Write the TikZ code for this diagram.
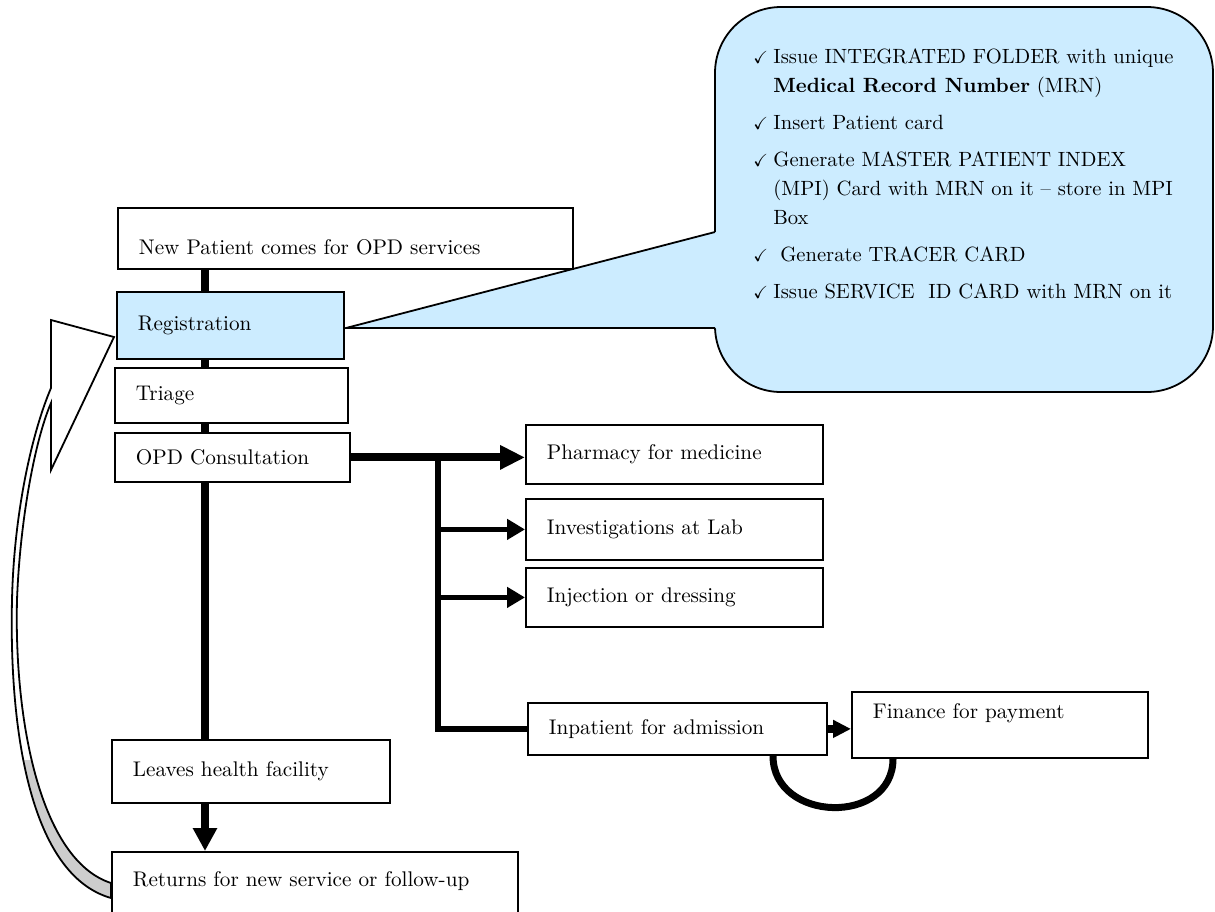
\documentclass[tikz,border=0pt]{standalone}
\usepackage{amssymb}
\usetikzlibrary{arrows.meta,calc}

\definecolor{regblue}{RGB}{204,236,255}
\definecolor{backgray}{RGB}{205,205,205}

\tikzset{
  stepbox/.style={draw, line width=0.9pt, fill=white, anchor=north west,
    inner xsep=10.5pt, inner ysep=0pt, align=left,
    font=\fontsize{10.6}{13}\selectfont},
  spine/.style={line width=4pt},
  mainarrow/.style={line width=4pt, -{Triangle[length=12.5pt,width=11.5pt]}},
  subarrow/.style={line width=2.5pt, -{Triangle[length=9pt,width=10pt]}},
  branch/.style={line width=2.6pt},
  payloop/.style={line width=3.5pt},
  calltext/.style={inner sep=0pt, anchor=north west, align=left,
    font=\fontsize{10.3}{14.5}\selectfont}
}

\newcommand{\tick}{\makebox[10pt][l]{\scalebox{0.85}{$\checkmark$}}}

% Outline of the curved return arrow
\def\backarrow{(51,320) -- (114,337) -- (51,470) -- (51,403)
  .. controls (35,440) and (20,520) .. (17,600)
  .. controls (14,720) and (40,860) .. (111,883) -- (111,898)
  .. controls (30,875) and (9,730) .. (12,600)
  .. controls (14,510) and (33,430) .. (51,388) -- cycle}

\begin{document}
\begin{tikzpicture}[x=0.5pt,y=-0.5pt]

% Page frame (pixel grid, y downwards)
\clip (0,0) rectangle (1215,911);

% Call-out for registration tasks
\draw[line width=0.9pt, fill=regblue, rounded corners=33pt] (715,7) rectangle (1213,392);
\fill[regblue] (346,328) -- (715,232) -- (718,232) -- (718,328) -- cycle;
\draw[line width=0.9pt] (715,232) -- (346,328) -- (715,328);
\node[calltext] (notes) at (753,48) {%
\tick Issue INTEGRATED FOLDER with unique\\
\hspace*{10pt}\textbf{Medical Record Number} (MRN)\\[4pt]
\tick Insert Patient card\\[4pt]
\tick Generate MASTER PATIENT INDEX\\
\hspace*{10pt}(MPI) Card with MRN on it -- store in MPI\\
\hspace*{10pt}Box\\[4pt]
\tick\ Generate TRACER CARD\\[4pt]
\tick Issue SERVICE\ \ ID CARD with MRN on it};

% Main column of steps
\node[stepbox, minimum width=227.5pt, minimum height=30.5pt, text width=206.5pt,
  text height=16pt] (np) at (117,207) {New Patient comes for OPD services};
\node[stepbox, fill=regblue, minimum width=113.5pt, minimum height=33.5pt,
  text width=92.5pt] (reg) at (116,291) {Registration};
\node[stepbox, minimum width=116.5pt, minimum height=27.5pt, text width=95.5pt]
  (tri) at (114,367) {Triage};
\node[stepbox, minimum width=117.5pt, minimum height=24.5pt, text width=96.5pt]
  (opd) at (114,432) {OPD Consultation};
\node[stepbox, minimum width=139pt, minimum height=31.5pt, text width=118pt]
  (lv) at (111,739) {Leaves health facility};
\node[stepbox, minimum width=203pt, minimum height=45pt, text width=182pt,
  text depth=18pt] (ret) at (111,851) {Returns for new service or follow-up};

% Services after consultation
\node[stepbox, minimum width=148.5pt, minimum height=29.5pt, text width=127.5pt]
  (ph) at (525,424) {Pharmacy for medicine};
\node[stepbox, minimum width=148.5pt, minimum height=30.5pt, text width=127.5pt]
  (inv) at (525,498) {Investigations at Lab};
\node[stepbox, minimum width=148.5pt, minimum height=29.5pt, text width=127.5pt]
  (inj) at (525,567) {Injection or dressing};
\node[stepbox, minimum width=149.5pt, minimum height=26pt, text width=128.5pt]
  (inp) at (527,702) {Inpatient for admission};
\node[stepbox, minimum width=148pt, minimum height=33pt, text width=127pt,
  text depth=14pt] (fin) at (851,691) {Finance for payment};

% Spine through the main column
\coordinate (sp) at (205,0);
\draw[spine] (np.south -| sp) -- (reg.north -| sp);
\draw[spine] (reg.south -| sp) -- (tri.north -| sp);
\draw[spine] (tri.south -| sp) -- (opd.north -| sp);
\draw[spine] (opd.south -| sp) -- (lv.north -| sp);
\draw[mainarrow, -{Triangle[length=11.5pt,width=11.5pt]}] (lv.south -| sp) -- (ret.north -| sp);

% Branches out of consultation
\coordinate (br) at (438,0);
\draw[mainarrow] (opd.east) -- (opd.east -| ph.west);
\draw[branch] (opd.east -| br) |- (inp.west);
\draw[subarrow] (br |- inv.west) -- (inv.west);
\draw[subarrow] (br |- inj.west) -- (inj.west);
\draw[mainarrow, -{Triangle[length=9pt,width=8.5pt]}] (inp.east) -- (inp.east -| fin.west);

% Loop between admission and payment
\draw[payloop] ($(inp.south west)+(246,0)$) .. controls +(0,67) and +(0,67) .. ($(fin.south west)+(42,0)$);

% Curved return arrow back to registration
\fill[white] \backarrow;
\begin{scope}
  \clip (0,760) rectangle (120,911);
  \fill[backgray] \backarrow;
\end{scope}
\draw[line width=0.9pt, line join=miter] \backarrow;

\end{tikzpicture}
\end{document}
